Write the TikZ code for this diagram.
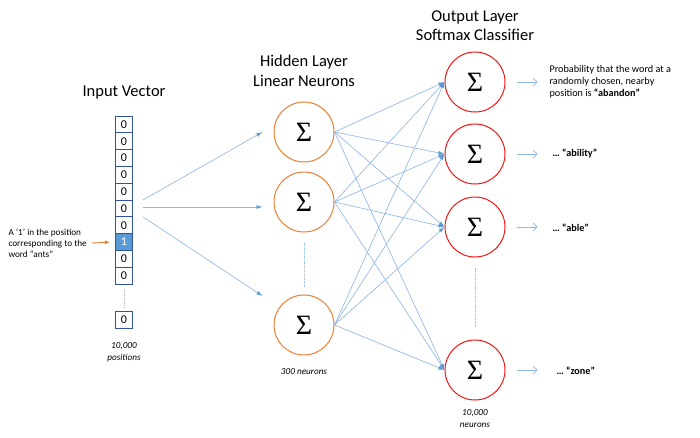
\documentclass[tikz,border=0pt]{standalone}
\usepackage{fontspec}
\setmainfont{Carlito}
\newfontfamily\sigfont{Liberation Serif}
\usetikzlibrary{arrows.meta,calc}
\definecolor{lineblue}{RGB}{143,182,228}
\definecolor{tipblue}{RGB}{91,155,213}
\definecolor{cellblue}{RGB}{47,85,151}
\definecolor{orng}{RGB}{237,125,49}
\definecolor{redc}{RGB}{240,20,20}
\begin{document}
\begin{tikzpicture}[x=1pt,y=-1pt,
  cellbox/.style={draw=cellblue,line width=0.9pt,minimum width=17pt,minimum height=16.8pt,inner sep=0pt,font=\fontsize{12}{12}\selectfont},
  hid/.style={circle,draw=orng,line width=1pt,minimum size=60pt,inner sep=0pt,font=\sigfont\fontsize{28}{28}\selectfont},
  outn/.style={circle,draw=redc,line width=1pt,minimum size=60pt,inner sep=0pt,font=\sigfont\fontsize{28}{28}\selectfont},
  conn/.style={draw=lineblue,line width=0.65pt,-{Latex[length=6pt,width=4pt,color=tipblue]}},
  outarrow/.style={draw=lineblue,line width=0.7pt,-{Straight Barb[length=4pt,width=8pt]}},
  dotline/.style={draw=lineblue,line width=0.9pt,densely dotted},
  title/.style={font=\fontsize{16.5}{19.5}\selectfont,align=center},
  small/.style={font=\fontsize{9.2}{11}\selectfont,align=left},
  note/.style={font=\itshape\fontsize{9.2}{12}\selectfont,align=center},
  rlabel/.style={font=\fontsize{10.2}{12.2}\selectfont,align=left,anchor=west}
]
\useasboundingbox (0,0) rectangle (700,437);

% titles
\node[title] (tin) at (124,93) {Input Vector};
\node[title] (thid) at (304,71) {Hidden Layer\\Linear Neurons};
\node[title] (tout) at (475,25.5) {Output Layer\\Softmax Classifier};

% input vector
\foreach \i in {0,...,9}{
  \node[cellbox] (c\i) at (124,{124.4+16.8*\i}) {0};
}
\node[cellbox,fill=tipblue,text=white] at (c7) {1};
\node[cellbox] (c10) at (124,320) {0};
\draw[dotline] ($(c9.south)+(0,5)$) -- ($(c10.north)+(0,-3)$);
\node[note] (npos) at (124,352) {10,000\\positions};

% left label
\node[small,anchor=west] (lab) at (5,243) {A ‘1’ in the position\\corresponding to the\\word “ants”};
\coordinate (ostart) at (92,243);
\draw[draw=orng,line width=0.9pt,-{Latex[length=5pt,width=4pt]}] (ostart) -- ($(c7.west)+(-5,0)$);

% hidden layer
\node[hid] (h1) at (304,132) {Σ};
\node[hid] (h2) at (304,202) {Σ};
\node[hid] (h3) at (304,325) {Σ};
\draw[dotline] ($(h2.south)+(0,10)$) -- ($(h3.north)+(0,-8)$);
\node[note] (nhid) at (304,372) {300 neurons};

% input to hidden
\coordinate (i1) at (143,200);
\coordinate (i2) at (143,207);
\coordinate (i3) at (143,217);
\draw[conn] (i1) -- ($(h1.west)+(-11,0)$);
\draw[conn] (i2) -- ($(h2.west)+(-11,5)$);
\draw[conn] (i3) -- ($(h3.west)+(-11,-29)$);

% output layer
\node[outn] (o1) at (475,82) {Σ};
\node[outn] (o2) at (475,154) {Σ};
\node[outn] (o3) at (475,227) {Σ};
\node[outn] (o4) at (475,370) {Σ};
\draw[dotline] ($(o3.south)+(0,10)$) -- ($(o4.north)+(0,-12)$);
\node[note] (nout) at (475,419) {10,000\\neurons};

% hidden to output
\foreach \h in {1,2,3}{
  \foreach \o in {1,2,3,4}{
    \draw[conn] (h\h.east) -- (o\o.west);
  }
}

% output arrows and labels
\foreach \o in {1,2,3,4}{
  \draw[outarrow] ($(o\o.east)+(11,0)$) -- ++(21,0);
}
\node[rlabel] (l1) at (546,82) {Probability that the word at a\\randomly chosen, nearby\\position is \textbf{“abandon”}};
\node[rlabel] (l2) at (549,154) {\textbf{… “ability”}};
\node[rlabel] (l3) at (549,228) {\textbf{… “able”}};
\node[rlabel] (l4) at (553,371) {\textbf{… “zone”}};
\end{tikzpicture}
\end{document}
